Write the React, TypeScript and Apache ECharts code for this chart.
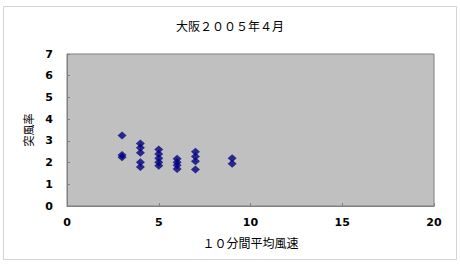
import React, { useEffect, useRef } from "react";
import * as echarts from "echarts";

const TITLE = "大阪２００５年４月";
const X_NAME = "１０分間平均風速";
const Y_NAME = "突風率";
const X_TICKS = [0, 5, 10, 15, 20];
const Y_TICKS = [0, 1, 2, 3, 4, 5, 6, 7];

const windSpeed = [3, 3, 3, 4, 4, 4, 4, 4, 5, 5, 5, 5, 5, 6, 6, 6, 6, 7, 7, 7, 7, 9, 9];
const gustFactor = [3.25, 2.35, 2.25, 2.88, 2.68, 2.45, 2.02, 1.8, 2.6, 2.4, 2.2, 2.02, 1.85, 2.18, 2.02, 1.88, 1.7, 2.5, 2.28, 2.06, 1.68, 2.2, 1.95];

export default function App() {
  const ref = useRef<HTMLDivElement>(null);
  useEffect(() => {
    if (!ref.current) return;
    const chart = echarts.init(ref.current, null, { renderer: "svg" });
    const font = "'Noto Sans CJK JP', 'Noto Sans', sans-serif";
    chart.setOption({
      animation: false,
      backgroundColor: "#ffffff",
      textStyle: { fontFamily: font },
      title: {
        text: TITLE,
        left: "center",
        top: 14,
        textStyle: { fontSize: 12, fontWeight: "normal", color: "#000", fontFamily: font },
      },
      graphic: [
        {
          type: "rect",
          shape: { x: 3.5, y: 6.5, width: 453, height: 253 },
          style: { fill: "none", stroke: "#d4d4d4", lineWidth: 1 },
          silent: true,
        },
      ],
      grid: {
        left: 67,
        right: 26,
        top: 54,
        bottom: 59,
        show: true,
        backgroundColor: "#c0c0c0",
        borderColor: "#808080",
        borderWidth: 1,
      },
      xAxis: {
        type: "value",
        min: X_TICKS[0],
        max: X_TICKS[X_TICKS.length - 1],
        interval: 5,
        name: X_NAME,
        nameLocation: "middle",
        nameGap: 30,
        nameTextStyle: { fontSize: 12, color: "#000", fontFamily: font },
        axisLine: { show: true, lineStyle: { color: "#808080" } },
        axisTick: { show: true, inside: true, length: 3, lineStyle: { color: "#808080" } },
        axisLabel: { fontSize: 11, color: "#000", fontWeight: "bold", margin: 11, fontFamily: "'DejaVu Sans', sans-serif" },
        splitLine: { show: false },
      },
      yAxis: {
        type: "value",
        min: Y_TICKS[0],
        max: Y_TICKS[Y_TICKS.length - 1],
        interval: 1,
        name: Y_NAME,
        nameLocation: "middle",
        nameGap: 34,
        nameRotate: 90,
        nameTextStyle: { fontSize: 11, color: "#000", fontFamily: font },
        axisLine: { show: true, lineStyle: { color: "#808080" } },
        axisTick: { show: true, inside: true, length: 3, lineStyle: { color: "#808080" } },
        axisLabel: { fontSize: 11, color: "#000", fontWeight: "bold", margin: 14, fontFamily: "'DejaVu Sans', sans-serif" },
        splitLine: { show: false },
      },
      series: [
        {
          type: "scatter",
          symbol: "diamond",
          symbolSize: [9, 8],
          itemStyle: { color: "#000080" },
          data: windSpeed.map((x, i) => [x, gustFactor[i]]),
        },
      ],
    });
    return () => chart.dispose();
  }, []);
  return (
    <div
      ref={ref}
      style={{ position: "fixed", left: 0, top: 0, width: 460, height: 265 }}
    />
  );
}
